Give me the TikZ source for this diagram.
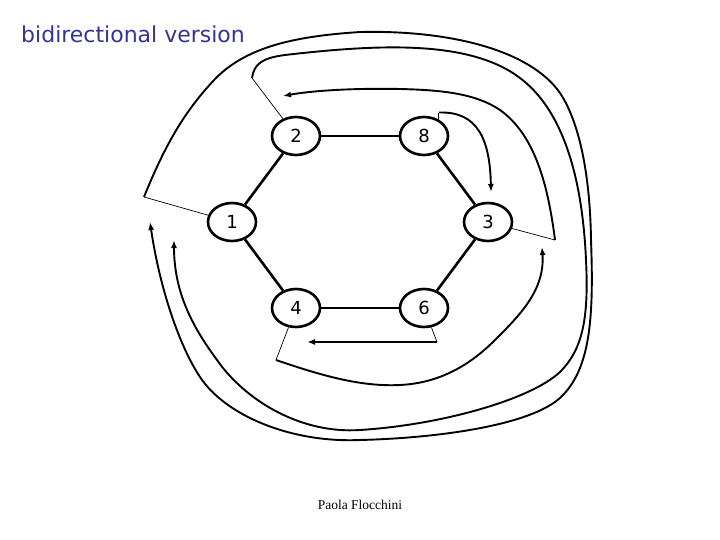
\documentclass[tikz,border=0pt]{standalone}
\usepackage{fontspec}
\setmainfont{Liberation Serif}
\newfontfamily\labelfont{DejaVu Sans}
\usetikzlibrary{shapes.geometric,arrows.meta}
\definecolor{titleblue}{RGB}{51,51,153}
\tikzset{
  ringnode/.style={draw, ellipse, line width=2.6pt, minimum width=48pt, minimum height=38pt, inner sep=0pt, font=\labelfont\fontsize{18}{20}\selectfont},
  ringedge/.style={line width=2.6pt},
  thinline/.style={line width=0.7pt},
  msg/.style={line width=1.9pt, -{Latex[length=8pt,width=6pt]}},
}
\begin{document}
\begin{tikzpicture}[x=1pt,y=-1pt]
\useasboundingbox (0,0) rectangle (720,540);
% title and footer
\node[anchor=base west, inner sep=0pt, text=titleblue, font=\labelfont\fontsize{22}{26}\selectfont] (title) at (21,43) {bidirectional version};
\node[anchor=base, inner sep=0pt, font=\fontsize{13.5}{15}\selectfont] (author) at (360,509) {Paola Flocchini};
% ring nodes
\node[ringnode] (n2) at (296,136) {2};
\node[ringnode] (n8) at (424,136) {8};
\node[ringnode] (n1) at (232,222) {1};
\node[ringnode] (n3) at (488,222) {3};
\node[ringnode] (n4) at (296,308) {4};
\node[ringnode] (n6) at (424,308) {6};
\draw[ringedge] (n2) -- (n8);
\draw[ringedge] (n1) -- (n2);
\draw[ringedge] (n8) -- (n3);
\draw[ringedge] (n1) -- (n4);
\draw[ringedge] (n3) -- (n6);
\draw[ringedge] (n4) -- (n6);
% coordinates of message ends
\coordinate (c1) at (144,197);
\coordinate (a1) at (150,222);
\coordinate (c2) at (252,78);
\coordinate (a2) at (174,240);
\coordinate (c3) at (555,240);
\coordinate (a3) at (283,96);
\coordinate (a8) at (491,192);
\coordinate (c4) at (276,360);
\coordinate (a4) at (542,247);
\coordinate (c6) at (437,342);
\coordinate (a6) at (307,342);
% from node 1: outermost loop
\draw[thinline] (n1) -- (c1);
\draw[msg] (c1) .. controls (165,145) and (185,110) .. (217,77)
  .. controls (250,45) and (300,36) .. (360,32)
  .. controls (450,30) and (530,50) .. (560,93)
  .. controls (578,120) and (590,170) .. (591,240)
  .. controls (594,320) and (590,370) .. (560,398)
  .. controls (530,425) and (440,438) .. (360,440)
  .. controls (290,443) and (225,415) .. (200,377)
  .. controls (180,347) and (160,290) .. (a1);
% from node 2
\draw[thinline] (n2) -- (c2);
\draw[msg] (c2) .. controls (254,64) and (262,58) .. (285,55)
  .. controls (380,44) and (470,40) .. (520,78)
  .. controls (560,108) and (582,170) .. (586,260)
  .. controls (589,320) and (582,350) .. (560,372)
  .. controls (530,400) and (440,425) .. (360,430)
  .. controls (300,434) and (245,400) .. (217,360)
  .. controls (195,330) and (174,295) .. (a2);
% from node 3
\draw[thinline] (n3) -- (c3);
\draw[msg] (c3) .. controls (548,185) and (535,135) .. (500,110)
  .. controls (475,93) and (440,90) .. (400,89)
  .. controls (350,88) and (310,91) .. (a3);
% from node 8
\draw[thinline] (n8.48) -- ++(0,-7) coordinate (c8);
\draw[msg] (c8) .. controls (478,111) and (490,140) .. (a8);
% from node 4
\draw[thinline] (n4) -- (c4);
\draw[msg] (c4) .. controls (320,375) and (360,387) .. (400,385)
  .. controls (440,383) and (470,365) .. (495,340)
  .. controls (520,315) and (545,290) .. (a4);
% from node 6
\draw[thinline] (n6) -- (c6);
\draw[msg] (c6) -- (a6);
\end{tikzpicture}
\end{document}
